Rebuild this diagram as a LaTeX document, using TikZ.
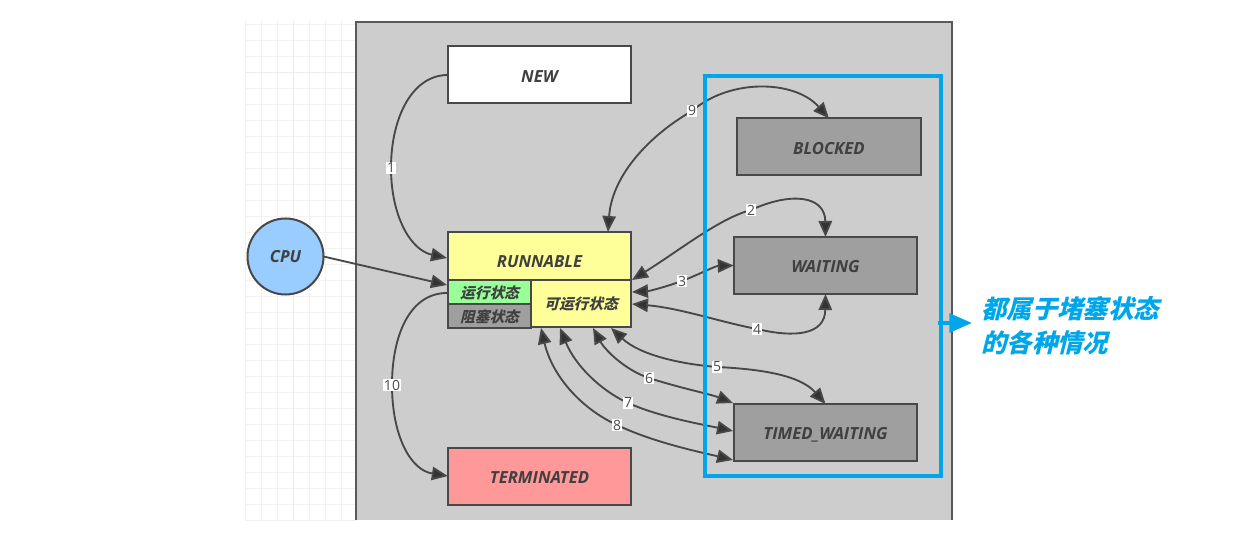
\documentclass[tikz,border=0pt]{standalone}
\usepackage{fontspec}
\setmainfont{Open Sans}
\newfontfamily\cjkfont[FakeSlant=0.25,BoldFeatures={FakeSlant=0.25}]{Noto Sans CJK SC}
\usetikzlibrary{arrows.meta}

\definecolor{panelgray}{HTML}{CDCDCD}
\definecolor{stategray}{HTML}{9F9F9F}
\definecolor{edgegray}{HTML}{484848}
\definecolor{tipgray}{HTML}{333333}
\definecolor{tipblue}{HTML}{00A6EA}
\definecolor{stateyellow}{HTML}{FFFF99}
\definecolor{stategreen}{HTML}{99FF99}
\definecolor{statered}{HTML}{FF9999}
\definecolor{cpublue}{HTML}{99CCFF}

\tikzset{every picture/.style={line width=0.75pt}}
\tikzset{
  statebox/.style={draw=edgegray,line width=1.5pt,outer sep=0pt,inner sep=0pt,minimum width=137.5pt,minimum height=42.75pt,text=black!75,text height=11pt,text depth=0pt,font=\bfseries\itshape\fontsize{12.5}{14}\selectfont},
  subbox/.style={statebox,minimum width=62.5pt,minimum height=18pt,text height=9.5pt,font=\cjkfont\bfseries\fontsize{11}{12}\selectfont},
  flow/.style={draw=edgegray,line width=1.4pt,-{Triangle[length=12pt,width=10pt,fill=tipgray]}},
  flowboth/.style={flow,{Triangle[length=12pt,width=10pt,fill=tipgray]}-{Triangle[length=12pt,width=10pt,fill=tipgray]}},
  numlabel/.style={fill=white,text=black!70,inner sep=1pt,font=\fontsize{10.5}{12}\selectfont},
  gridline/.style={draw=black!5,line width=0.6pt},
}

\begin{document}
\begin{tikzpicture}[x=0.75pt,y=0.75pt,yscale=-1,xscale=1]
\useasboundingbox (0,0) rectangle (1235,538);

% Grid behind the left part
\foreach \gx in {245,261,...,356} {\draw[gridline] (\gx,20) -- (\gx,520);}
\foreach \gy in {24,40,...,520} {\draw[gridline] (245,\gy) -- (356,\gy);}
\draw[gridline,draw=black!7] (293,20) -- (293,520);
\draw[gridline,draw=black!7] (245,72) -- (356,72);

% Panel
\fill[panelgray] (356,22) rectangle (952,520);
\draw[draw=black!65,line width=1.5pt] (356,520) -- (356,22) -- (952,22) -- (952,520);

% State nodes
\node[statebox,fill=white] (new) at (539.5,75) {NEW};
\node[statebox,fill=stategray] (blocked) at (829,147) {BLOCKED};
\node[statebox,fill=stategray] (waiting) at (825.5,265.5) {WAITING};
\node[statebox,fill=stategray] (timed) at (825.5,432.5) {TIMED\_WAITING};
\node[statebox,fill=statered] (terminated) at (539.5,476) {TERMINATED};
\node[statebox,fill=stateyellow,minimum height=36pt,text height=17pt] (runnable) at (539.5,256) {RUNNABLE};
\node[subbox,fill=stategreen] (running) at (489.5,292) {运行状态};
\node[subbox,fill=stategray] (stuck) at (489.5,316) {阻塞状态};
\node[subbox,fill=stateyellow,minimum width=75pt,minimum height=35.25pt] (ready) at (581,303.5) {可运行状态};
\node[draw=edgegray,line width=1.5pt,circle,fill=cpublue,outer sep=0pt,inner sep=0pt,minimum size=57pt,text=black!75,font=\bfseries\itshape\fontsize{12.5}{14}\selectfont] (cpu) at (285.5,256.5) {CPU};

% Free ends and points on the curves
\coordinate (r1) at (447,258);
\coordinate (r2) at (632,280);
\coordinate (r3) at (632,292);
\coordinate (r4) at (632,304);
\coordinate (r5) at (611,328);
\coordinate (r6) at (593,328);
\coordinate (r7) at (560,328);
\coordinate (r8) at (541,328);
\coordinate (r9) at (608,232);
\coordinate (rc) at (447,285);
\coordinate (r10) at (447,293);
\coordinate (t6) at (733,403);
\coordinate (t7) at (733,431);
\coordinate (t8) at (733,460);
\coordinate (p1) at (391,168);
\coordinate (p2) at (751,210);
\coordinate (p3) at (682,281);
\coordinate (p4) at (757,329);
\coordinate (p5) at (717,367);
\coordinate (p6) at (649,378);
\coordinate (p7) at (628,403);
\coordinate (p8) at (617,425);
\coordinate (p9) at (692,111);
\coordinate (p10) at (392,385);

% Connectors
\draw[flow] (new.west) .. controls (412,75) and (391,118) .. (p1) .. controls (391,215) and (410,250) .. (r1);
\draw[flow] (cpu.east) -- (rc);
\draw[flowboth] (r2) .. controls (680,250) and (720,218) .. (p2) .. controls (790,192) and (825,195) .. (waiting.north);
\draw[flowboth] (r3) .. controls (650,291) and (665,287) .. (p3) .. controls (700,274) and (715,266) .. (waiting.west);
\draw[flowboth] (r4) .. controls (680,308) and (720,322) .. (p4) .. controls (795,338) and (825,335) .. (waiting.south);
\draw[flowboth] (r5) .. controls (640,355) and (680,364) .. (p5) .. controls (760,369) and (800,375) .. (timed.north);
\draw[flowboth] (r6) .. controls (605,350) and (625,370) .. (p6) .. controls (680,388) and (710,394) .. (t6);
\draw[flowboth] (r7) .. controls (575,365) and (600,390) .. (p7) .. controls (660,417) and (700,424) .. (t7);
\draw[flowboth] (r8) .. controls (552,375) and (580,408) .. (p8) .. controls (655,443) and (700,452) .. (t8);
\draw[flowboth] (r9) .. controls (612,175) and (650,135) .. (p9) .. controls (730,78) and (795,80) .. (blocked.north);
\draw[flow] (r10) .. controls (410,293) and (392,335) .. (p10) .. controls (392,435) and (410,470) .. (terminated.west);

% Number labels
\node[numlabel] (l1) at (p1) {1};
\node[numlabel] (l2) at (p2) {2};
\node[numlabel] (l3) at (p3) {3};
\node[numlabel] (l4) at (p4) {4};
\node[numlabel] (l5) at (p5) {5};
\node[numlabel] (l6) at (p6) {6};
\node[numlabel] (l7) at (p7) {7};
\node[numlabel] (l8) at (p8) {8};
\node[numlabel] (l9) at (p9) {9};
\node[numlabel] (l10) at (p10) {10};

% Blue frame and note
\node[draw=tipblue,line width=3pt,outer sep=0pt,inner sep=0pt,minimum width=177pt,minimum height=300pt] (frame) at (822.5,276) {};
\coordinate (tipend) at (972,323);
\draw[draw=tipblue,line width=3pt,-{Triangle[length=17pt,width=14pt,fill=tipblue]}] (938,323) -- (tipend);
\node[anchor=north west,inner sep=0pt,align=left,text=tipblue,font=\cjkfont\bfseries\fontsize{19}{25.5}\selectfont] (note) at (981,296) {都属于堵塞状态\\的各种情况};
\end{tikzpicture}
\end{document}
